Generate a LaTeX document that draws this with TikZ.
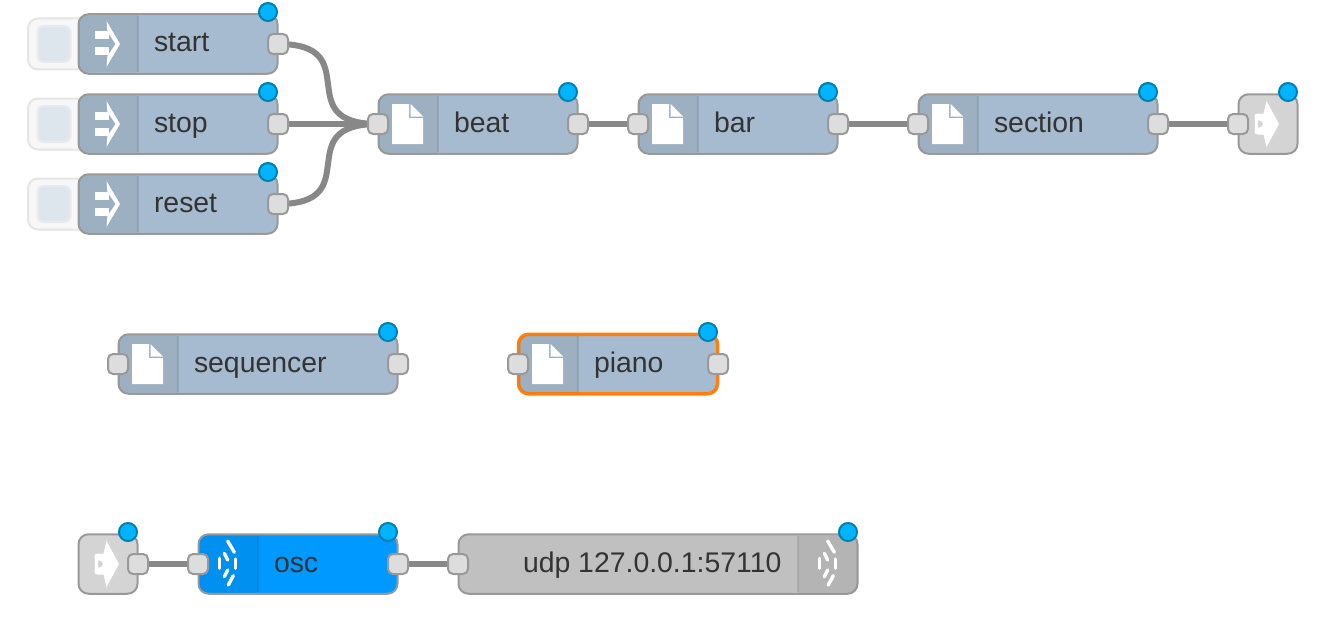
\documentclass[tikz,border=0pt]{standalone}
\usepackage{fontspec}
\setmainfont{Liberation Sans}
\usetikzlibrary{backgrounds}
\definecolor{nodeblue}{HTML}{A6BBCF}
\definecolor{oscblue}{HTML}{0099FF}
\definecolor{udpgrey}{HTML}{C0C0C0}
\definecolor{linkgrey}{HTML}{D4D4D4}
\definecolor{edgegrey}{HTML}{999999}
\definecolor{wiregrey}{HTML}{888888}
\definecolor{portfill}{HTML}{DDDDDD}
\definecolor{dotfill}{HTML}{00B4FF}
\definecolor{dotring}{HTML}{0080B0}
\definecolor{labelink}{HTML}{333333}
\definecolor{selorange}{HTML}{FF7F0E}
\tikzset{
  flowbody/.style={draw=edgegrey,line width=2pt,rounded corners=10pt,inner sep=0pt,outer sep=0pt,minimum height=59.5pt},
  selbody/.style={flowbody,draw=selorange,line width=3.5pt},
  flowport/.style={draw=edgegrey,fill=portfill,line width=2pt,rounded corners=5pt,inner sep=0pt,outer sep=0pt,minimum size=20pt},
  statusdot/.style={circle,draw=dotring,fill=dotfill,line width=2pt,inner sep=0pt,outer sep=0pt,minimum size=18pt},
  flowlabel/.style={anchor=base west,inner sep=0pt,outer sep=0pt,text=labelink,font=\fontsize{28.4}{32}\selectfont},
  wire/.style={draw=wiregrey,line width=6pt},
  iconwhite/.style={fill=white,draw=none},
  wavestroke/.style={draw=white,line width=3.4pt,line cap=round},
  btnouter/.style={draw=black!10,fill=black!3,line width=2pt,rounded corners=10pt,inner sep=0pt,outer sep=0pt,minimum width=62pt,minimum height=51pt},
  btninner/.style={draw=black!8,fill=nodeblue!38,line width=2pt,rounded corners=6pt,inner sep=0pt,outer sep=0pt,minimum width=33pt,minimum height=36pt},
}
% #1 name, #2 x, #3 y, #4 width, #5 fill, #6 body style
\newcommand\fbody[6]{\node[#6,fill=#5,minimum width=#4pt-1pt] (#1) at (#2+#4/2,#3+30) {};}
\newcommand\fdot[3]{\node[statusdot] (#1) at (#2-10,#3-2) {};}
\newcommand\fstripeL[2]{\begin{scope}[shift={(#1,#2)}]
  \fill[black,opacity=.06,rounded corners=9pt] (60,1.5) -- (1,1.5) -- (1,58.5) -- (60,58.5);
  \draw[black,opacity=.09,line width=1.5pt] (60,2) -- (60,58);
\end{scope}}
\newcommand\fstripeR[2]{\begin{scope}[shift={(#1,#2)}]
  \fill[black,opacity=.06,rounded corners=9pt] (0,1.5) -- (59,1.5) -- (59,58.5) -- (0,58.5);
  \draw[black,opacity=.09,line width=1.5pt] (0,2) -- (0,58);
\end{scope}}
\newcommand\ffile[2]{\begin{scope}[shift={(#1,#2)}]
  \fill[iconwhite] (14,10) -- (31,10) -- (31,24) -- (45,24) -- (45,50) -- (14,50) -- cycle;
  \fill[iconwhite] (32.5,10) -- (45,22.5) -- (32.5,22.5) -- cycle;
\end{scope}}
\newcommand\farrow[2]{\begin{scope}[shift={(#1,#2)}]
  \fill[iconwhite] (17,17.5) rectangle (31,25.5);
  \fill[iconwhite] (17,33.5) rectangle (31,41.5);
  \fill[iconwhite] (28.5,7) -- (42,30) -- (28.5,53) -- (29.5,42) -- (37.5,30) -- (29.5,18) -- cycle;
\end{scope}}
\newcommand\flinkicon[2]{\begin{scope}[shift={(#1,#2)}]
  \fill[iconwhite,even odd rule] (28.5,7) -- (41,30) -- (28.5,53) -- (25.5,40.5) -- (20,40.5) .. controls (15,40.5) and (17,38) .. (17,30) .. controls (17,22) and (15,19.5) .. (20,19.5) -- (25.5,19.5) -- cycle
    (20,26) -- (20,34) .. controls (23,34) and (25,32) .. (25,30) .. controls (25,28) and (23,26) .. (20,26) -- cycle;
\end{scope}}
\newcommand\fwave[2]{\begin{scope}[shift={(#1,#2)}]
  \draw[wavestroke] (29.7,7) -- (36.3,18.3);
  \draw[wavestroke] (37.7,25) -- (37.7,34.3);
  \draw[wavestroke] (35.3,41.7) -- (30.3,51);
  \draw[wavestroke] (26.3,19.3) -- (29.7,26);
  \draw[wavestroke] (29.7,36) -- (26.3,42.7);
  \draw[wavestroke] (21.7,24.3) -- (21.7,34.3);
\end{scope}}
\begin{document}
\begin{tikzpicture}[x=1pt,y=-1pt]
\useasboundingbox (0,0) rectangle (1338,642);
% inject buttons
\node[btnouter] (btnA) at (59,44) {};
\node[btninner] (keyA) at (54,44) {};
\node[btnouter] (btnB) at (59,124) {};
\node[btninner] (keyB) at (54,124) {};
\node[btnouter] (btnC) at (59,204) {};
\node[btninner] (keyC) at (54,204) {};
% top row
\fbody{start}{78}{14}{200}{nodeblue}{flowbody}\fstripeL{78}{14}\farrow{78}{14}
\node[flowlabel] (startT) at (154,52) {start};
\fbody{stop}{78}{94}{200}{nodeblue}{flowbody}\fstripeL{78}{94}\farrow{78}{94}
\node[flowlabel] (stopT) at (154,132) {stop};
\fbody{reset}{78}{174}{200}{nodeblue}{flowbody}\fstripeL{78}{174}\farrow{78}{174}
\node[flowlabel] (resetT) at (154,212) {reset};
\fbody{beat}{378}{94}{200}{nodeblue}{flowbody}\fstripeL{378}{94}\ffile{378}{94}
\node[flowlabel] (beatT) at (454,132) {beat};
\fbody{bar}{638}{94}{200}{nodeblue}{flowbody}\fstripeL{638}{94}\ffile{638}{94}
\node[flowlabel] (barT) at (714,132) {bar};
\fbody{section}{918}{94}{240}{nodeblue}{flowbody}\fstripeL{918}{94}\ffile{918}{94}
\node[flowlabel] (sectionT) at (994,132) {section};
\fbody{linkout}{1238}{94}{60}{linkgrey}{flowbody}\flinkicon{1238}{94}
% middle row
\fbody{sequencer}{118}{334}{280}{nodeblue}{flowbody}\fstripeL{118}{334}\ffile{118}{334}
\node[flowlabel] (sequencerT) at (194,372) {sequencer};
\fbody{piano}{518}{334}{200}{nodeblue}{selbody}\fstripeL{518}{334}\ffile{518}{334}
\node[flowlabel] (pianoT) at (594,372) {piano};
% bottom row
\fbody{linkin}{78}{534}{60}{linkgrey}{flowbody}\flinkicon{78}{534}
\fbody{osc}{198}{534}{200}{oscblue}{flowbody}\fstripeL{198}{534}\fwave{198}{534}
\node[flowlabel] (oscT) at (274,572) {osc};
\fbody{udp}{458}{534}{400}{udpgrey}{flowbody}\fstripeR{798}{534}\fwave{798}{534}
\node[flowlabel] (udpT) at (523,572) {udp 127.0.0.1:57110};
% ports
\foreach \pn/\px/\py in {
  startO/278/44, stopO/278/124, resetO/278/204,
  beatI/378/124, beatO/578/124, barI/638/124, barO/838/124,
  sectionI/918/124, sectionO/1158/124, linkoutI/1238/124,
  sequencerI/118/364, sequencerO/398/364, pianoI/518/364, pianoO/718/364,
  linkinO/138/564, oscI/198/564, oscO/398/564, udpI/458/564}
  {\node[flowport] (\pn) at (\px,\py) {};}
% status dots
\fdot{dotA}{278}{14}\fdot{dotB}{278}{94}\fdot{dotC}{278}{174}
\fdot{dotD}{578}{94}\fdot{dotE}{838}{94}\fdot{dotF}{1158}{94}\fdot{dotG}{1298}{94}
\fdot{dotH}{398}{334}\fdot{dotI}{718}{334}
\fdot{dotJ}{138}{534}\fdot{dotK}{398}{534}\fdot{dotL}{858}{534}
% connectors
\begin{pgfonlayer}{background}
\draw[wire] (startO.center) .. controls +(90,0) and +(-90,0) .. (beatI.center);
\draw[wire] (stopO.center) -- (beatI.center);
\draw[wire] (resetO.center) .. controls +(90,0) and +(-90,0) .. (beatI.center);
\draw[wire] (beatO.center) -- (barI.center);
\draw[wire] (barO.center) -- (sectionI.center);
\draw[wire] (sectionO.center) -- (linkoutI.center);
\draw[wire] (linkinO.center) -- (oscI.center);
\draw[wire] (oscO.center) -- (udpI.center);
\end{pgfonlayer}
\end{tikzpicture}
\end{document}
